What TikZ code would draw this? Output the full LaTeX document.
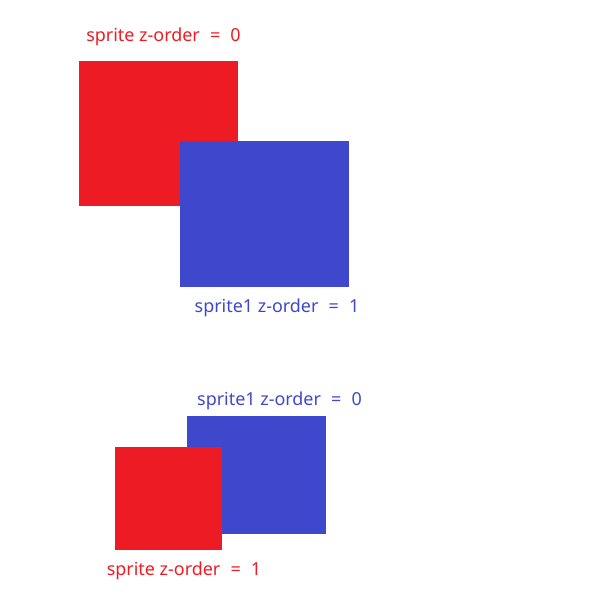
\documentclass[tikz,border=0pt]{standalone}
\usepackage{fontspec}
\setmainfont{Noto Sans}
\definecolor{sred}{HTML}{ED1C24}
\definecolor{sblue}{HTML}{3F48CC}
\newcommand{\wideeq}{\hspace{5.5bp} = \hspace{5.5bp}}
\begin{document}
\begin{tikzpicture}[x=1bp,y=-1bp,
  redbox/.style={fill=sred,draw=none},
  bluebox/.style={fill=sblue,draw=none},
  lbl/.style={anchor=base,inner sep=0pt,font=\fontsize{18}{20}\selectfont}]
\useasboundingbox (0,0) rectangle (600,600);
% top pair
\fill[redbox] (79,61) rectangle (238,206);
\fill[bluebox] (180,141) rectangle (349,287);
\node[lbl,text=sred] (t1) at (163.5,42) {sprite z-order\wideeq 0};
\node[lbl,text=sblue] (t2) at (277,312) {sprite1 z-order\wideeq 1};
% bottom pair
\fill[bluebox] (187,416) rectangle (326,534);
\fill[redbox] (115,447) rectangle (222,550);
\node[lbl,text=sblue] (t3) at (279.5,405) {sprite1 z-order\wideeq 0};
\node[lbl,text=sred] (t4) at (184,575) {sprite z-order\wideeq 1};
\end{tikzpicture}
\end{document}
